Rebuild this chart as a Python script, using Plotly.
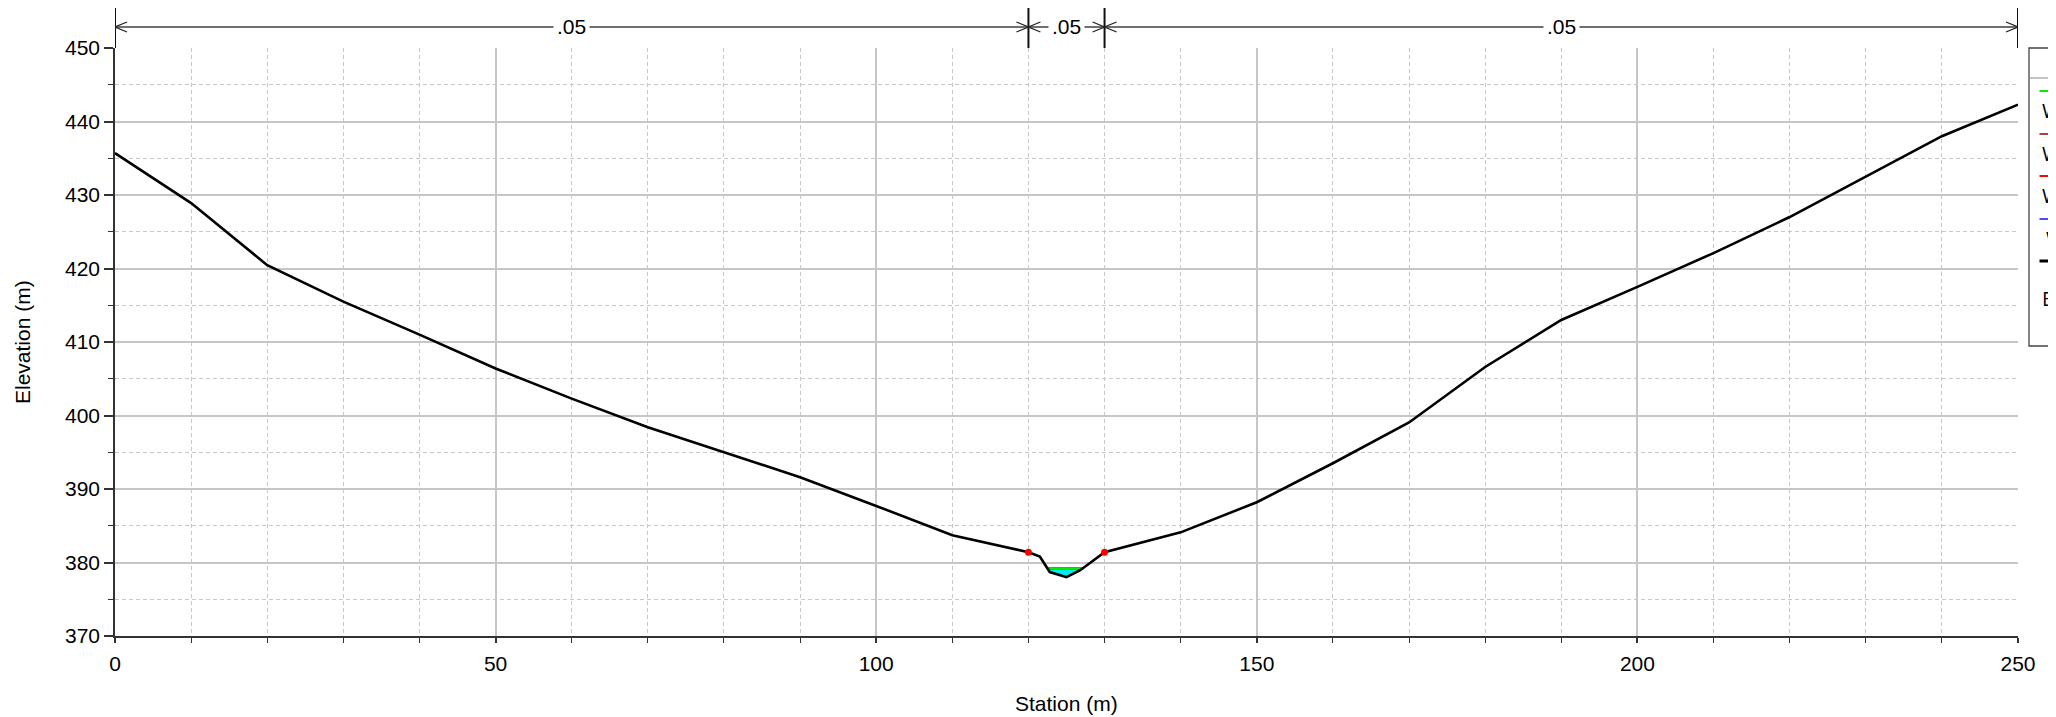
import numpy as np
import plotly.graph_objects as go

# ---------------- data ----------------
station = [0, 10, 20, 30, 40, 50, 60, 70, 80, 90, 100, 110, 120, 121.5, 122.8, 125,
           126.8, 130, 140, 150, 160, 170, 180, 190, 200, 210, 220, 230, 240, 250]
elevation = [435.7, 428.9, 420.45, 415.5, 411.0, 406.4, 402.3, 398.4, 395.0, 391.6,
             387.7, 383.7, 381.4, 380.8, 378.7, 378.0, 378.95, 381.4, 384.1, 388.2,
             393.5, 399.05, 406.6, 413.0, 417.5, 422.1, 427.0, 432.5, 438.0, 442.3]
bank_stations = [120, 130]
ws_elevation = 379.2
n_bounds = [0, 120, 130, 250]
n_values = [".05", ".05", ".05"]
legend_names = ["WS PF 3", "WS PF 2", "WS PF 1", "WS PF 4", "Ground", "EG PF 1"]
legend_colors = ["#00ee00", "#a04848", "#ff0000", "#4a4aff", "#000000"]

# page body has an 8px margin, so the figure is drawn offset by 8px
OFF = 8
W, H = 2056 - OFF, 717 - OFF
L, T = 115 - OFF, 48 - OFF
PW, PH = 1903, 588
R, B = W - L - PW, H - T - PH


def px(X):
    return (X - OFF - L) / PW


def py(Y):
    return (T + PH - (Y - OFF)) / PH


st = np.array(station, float)
el = np.array(elevation, float)

# water polygon from ground data
i_lb = station.index(bank_stations[0])
i_rb = station.index(bank_stations[1])
wx, wy = [], []
for i in range(i_lb, i_rb):
    x0, x1, y0, y1 = st[i], st[i + 1], el[i], el[i + 1]
    if (y0 - ws_elevation) * (y1 - ws_elevation) < 0:
        xc = x0 + (ws_elevation - y0) / (y1 - y0) * (x1 - x0)
        wx.append(xc); wy.append(ws_elevation)
    if y1 < ws_elevation:
        wx.append(x1); wy.append(y1)
ws_left, ws_right = wx[0], wx[-1]

fig = go.Figure()
fig.add_trace(go.Scatter(x=wx + [wx[0]], y=wy + [wy[0]], fill="toself", fillcolor="#00eaf2",
                         mode="lines", line=dict(width=0), hoverinfo="skip", showlegend=False))
for c in ["#4a4aff", "#ff0000", "#a04848", "#00ee00"]:
    fig.add_trace(go.Scatter(x=[ws_left, ws_right], y=[ws_elevation, ws_elevation], mode="lines",
                             line=dict(color=c, width=1.6), showlegend=False))
fig.add_trace(go.Scatter(x=station, y=elevation, mode="lines", line=dict(color="black", width=2.6),
                         showlegend=False))
bank_el = [float(np.interp(b, st, el)) for b in bank_stations]
fig.add_trace(go.Scatter(x=bank_stations, y=bank_el, mode="markers",
                         marker=dict(color="#ff0000", size=7), showlegend=False))

shapes = []
yd = py(27)
ytop = py(5)
# dimension line
shapes.append(dict(type="line", xref="x", yref="paper", x0=n_bounds[0], x1=n_bounds[-1], y0=yd, y1=yd,
                   line=dict(color="#404040", width=1.5)))
for b in n_bounds:
    shapes.append(dict(type="line", xref="x", yref="paper", x0=b, x1=b, y0=1, y1=ytop,
                       line=dict(color="#111111", width=2)))
for k in range(len(n_values)):
    a, b = n_bounds[k], n_bounds[k + 1]
    shapes.append(dict(type="path", xref="x", yref="paper", xsizemode="pixel", ysizemode="pixel",
                       xanchor=a, yanchor=yd, path="M 12,5 L 0,0 L 12,-5",
                       line=dict(color="#222222", width=1.3)))
    shapes.append(dict(type="path", xref="x", yref="paper", xsizemode="pixel", ysizemode="pixel",
                       xanchor=b, yanchor=yd, path="M -12,5 L 0,0 L -12,-5",
                       line=dict(color="#222222", width=1.3)))

annotations = []
for k, v in enumerate(n_values):
    annotations.append(dict(x=(n_bounds[k] + n_bounds[k + 1]) / 2, y=yd, xref="x", yref="paper",
                            xanchor="center", yanchor="middle",
                            text=v, showarrow=False, bgcolor="white", borderpad=3,
                            font=dict(size=21, color="black", family="Liberation Sans")))

# legend (partially off-page, as in the reference)
lx0 = px(2029)
shapes.append(dict(type="rect", xref="paper", yref="paper", x0=lx0, x1=px(2090), y0=py(346), y1=py(48),
                   line=dict(color="#444444", width=1.3), fillcolor="white"))
shapes.append(dict(type="line", xref="paper", yref="paper", x0=lx0, x1=px(2090), y0=py(78), y1=py(78),
                   line=dict(color="#888888", width=1)))
annotations.append(dict(x=px(2054), y=py(63), xref="paper", yref="paper", xanchor="left",
                        yanchor="middle", text="Legend",
                        showarrow=False, font=dict(size=19, color="#b0b0b0", family="Open Sans")))
line_y = [91, 134, 176, 219, 261]
text_y = [110, 153, 195, 238, 298]
text_x = [2040.5, 2040.5, 2040.5, 2045, 2040.5]
for k, c in enumerate(legend_colors):
    shapes.append(dict(type="line", xref="paper", yref="paper", x0=px(2039.5), x1=px(2075),
                       y0=py(line_y[k]), y1=py(line_y[k]),
                       line=dict(color=c, width=3 if c == "#000000" else 1.8)))
names = [legend_names[0], legend_names[1], legend_names[2], legend_names[3], legend_names[5]]
for k, nm in enumerate(names):
    annotations.append(dict(x=px(text_x[k]), y=py(text_y[k]), xref="paper", yref="paper", xanchor="left",
                            yanchor="middle", text=nm, showarrow=False, xshift=-1,
                            font=dict(size=20, color="black", family="Open Sans")))

# axis titles
annotations.append(dict(x=px(22), y=0.5, xref="paper", yref="paper", text="Elevation (m)", textangle=-90,
                        xanchor="center", yanchor="middle",
                        showarrow=False, font=dict(size=21, color="black", family="Liberation Sans")))
annotations.append(dict(x=0.5, y=py(703), xref="paper", yref="paper", text="Station (m)",
                        xanchor="center", yanchor="middle",
                        showarrow=False, font=dict(size=21, color="black", family="Liberation Sans")))

grid_major = "#c6c6c6"
grid_minor = "#c8c8c8"
fig.update_layout(
    width=W, height=H, margin=dict(l=L, r=R, t=T, b=B, autoexpand=False),
    paper_bgcolor="white", plot_bgcolor="white",
    shapes=shapes, annotations=annotations, showlegend=False,
    font=dict(family="Liberation Sans", size=21, color="black"),
    xaxis=dict(range=[0, 250], tick0=0, dtick=50, showgrid=True, gridcolor=grid_major, gridwidth=1.6,
               showline=True, linecolor="#333333", linewidth=1.6, ticks="outside", ticklen=5,
               tickcolor="#333333", tickwidth=1.5, zeroline=False, ticklabelstandoff=3,
               tickfont=dict(size=21, family="Liberation Sans"),
               minor=dict(dtick=10, showgrid=True, gridcolor=grid_minor, griddash="4px,3px", gridwidth=1,
                          ticks="outside", ticklen=5, tickcolor="#333333", tickwidth=1.2)),
    yaxis=dict(range=[370, 450], tick0=370, dtick=10, showgrid=True, gridcolor=grid_major, gridwidth=1.6,
               showline=True, linecolor="#333333", linewidth=1.6, ticks="outside", ticklen=9,
               tickcolor="#333333", tickwidth=1.5, zeroline=False,
               tickfont=dict(size=21, family="Liberation Sans"),
               minor=dict(dtick=5, showgrid=True, gridcolor=grid_minor, griddash="4px,3px", gridwidth=1,
                          ticks="outside", ticklen=5, tickcolor="#333333", tickwidth=1.2)),
)
fig.write_html("out.html")
